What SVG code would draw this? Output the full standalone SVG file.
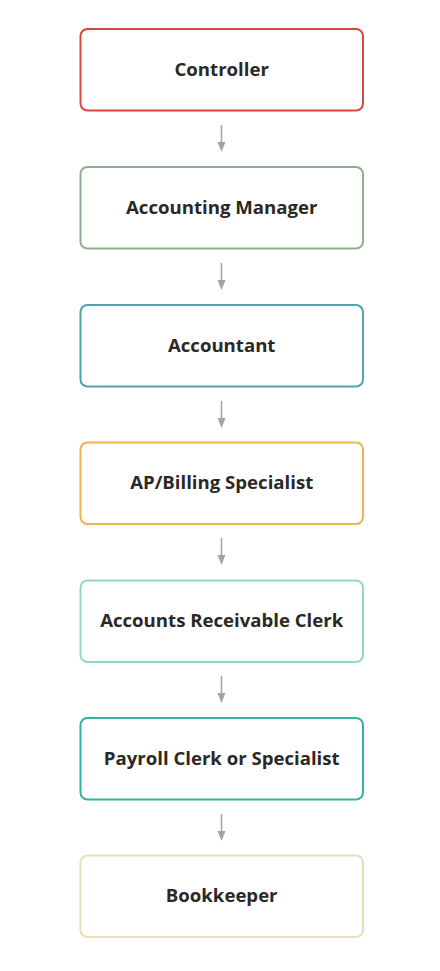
<svg xmlns="http://www.w3.org/2000/svg" width="440" height="971" viewBox="0 0 440 971">
<defs>
<style>
.box{fill:#ffffff;stroke-width:2}
.lbl{font-family:"Open Sans","Liberation Sans",sans-serif;font-weight:700;font-size:18.6px;fill:#2b2826;text-anchor:middle;dominant-baseline:central}
.conn{stroke:#a3a3a3;stroke-width:1.5;fill:none}
.head{fill:#a3a3a3}
</style>
</defs>
<rect width="440" height="971" fill="#ffffff"/>
<g id="connectors">
<line class="conn" x1="221.5" y1="125" x2="221.5" y2="143"/>
<path class="head" d="M217.5,142 L225.5,142 L221.5,152 Z"/>
<line class="conn" x1="221.5" y1="263" x2="221.5" y2="281"/>
<path class="head" d="M217.5,280 L225.5,280 L221.5,290 Z"/>
<line class="conn" x1="221.5" y1="401" x2="221.5" y2="419"/>
<path class="head" d="M217.5,418 L225.5,418 L221.5,428 Z"/>
<line class="conn" x1="221.5" y1="538" x2="221.5" y2="556"/>
<path class="head" d="M217.5,555 L225.5,555 L221.5,565 Z"/>
<line class="conn" x1="221.5" y1="676" x2="221.5" y2="694"/>
<path class="head" d="M217.5,693 L225.5,693 L221.5,703 Z"/>
<line class="conn" x1="221.5" y1="814" x2="221.5" y2="832"/>
<path class="head" d="M217.5,831 L225.5,831 L221.5,841 Z"/>
</g>
<g id="controller">
<rect class="box" x="80.5" y="29" width="282.5" height="81.5" rx="7" stroke="#d9473b"/>
<text class="lbl" x="221.7" y="68">Controller</text>
</g>
<g id="accounting-manager">
<rect class="box" x="80.5" y="167" width="282.5" height="81.5" rx="7" stroke="#8fb08f"/>
<text class="lbl" x="221.7" y="206">Accounting Manager</text>
</g>
<g id="accountant">
<rect class="box" x="80.5" y="305" width="282.5" height="81.5" rx="7" stroke="#4ea5ae"/>
<text class="lbl" x="221.7" y="344">Accountant</text>
</g>
<g id="ap-billing-specialist">
<rect class="box" x="80.5" y="442.5" width="282.5" height="81.5" rx="7" stroke="#f2b24f"/>
<text class="lbl" x="221.7" y="481.5">AP/Billing Specialist</text>
</g>
<g id="accounts-receivable-clerk">
<rect class="box" x="80.5" y="580.5" width="282.5" height="81.5" rx="7" stroke="#93d8c3"/>
<text class="lbl" x="221.7" y="619.5">Accounts Receivable Clerk</text>
</g>
<g id="payroll-clerk">
<rect class="box" x="80.5" y="718" width="282.5" height="81.5" rx="7" stroke="#2fb59f"/>
<text class="lbl" x="221.7" y="757">Payroll Clerk or Specialist</text>
</g>
<g id="bookkeeper">
<rect class="box" x="80.5" y="855.5" width="282.5" height="81.5" rx="7" stroke="#e9deb5"/>
<text class="lbl" x="221.7" y="894.5">Bookkeeper</text>
</g>
</svg>
